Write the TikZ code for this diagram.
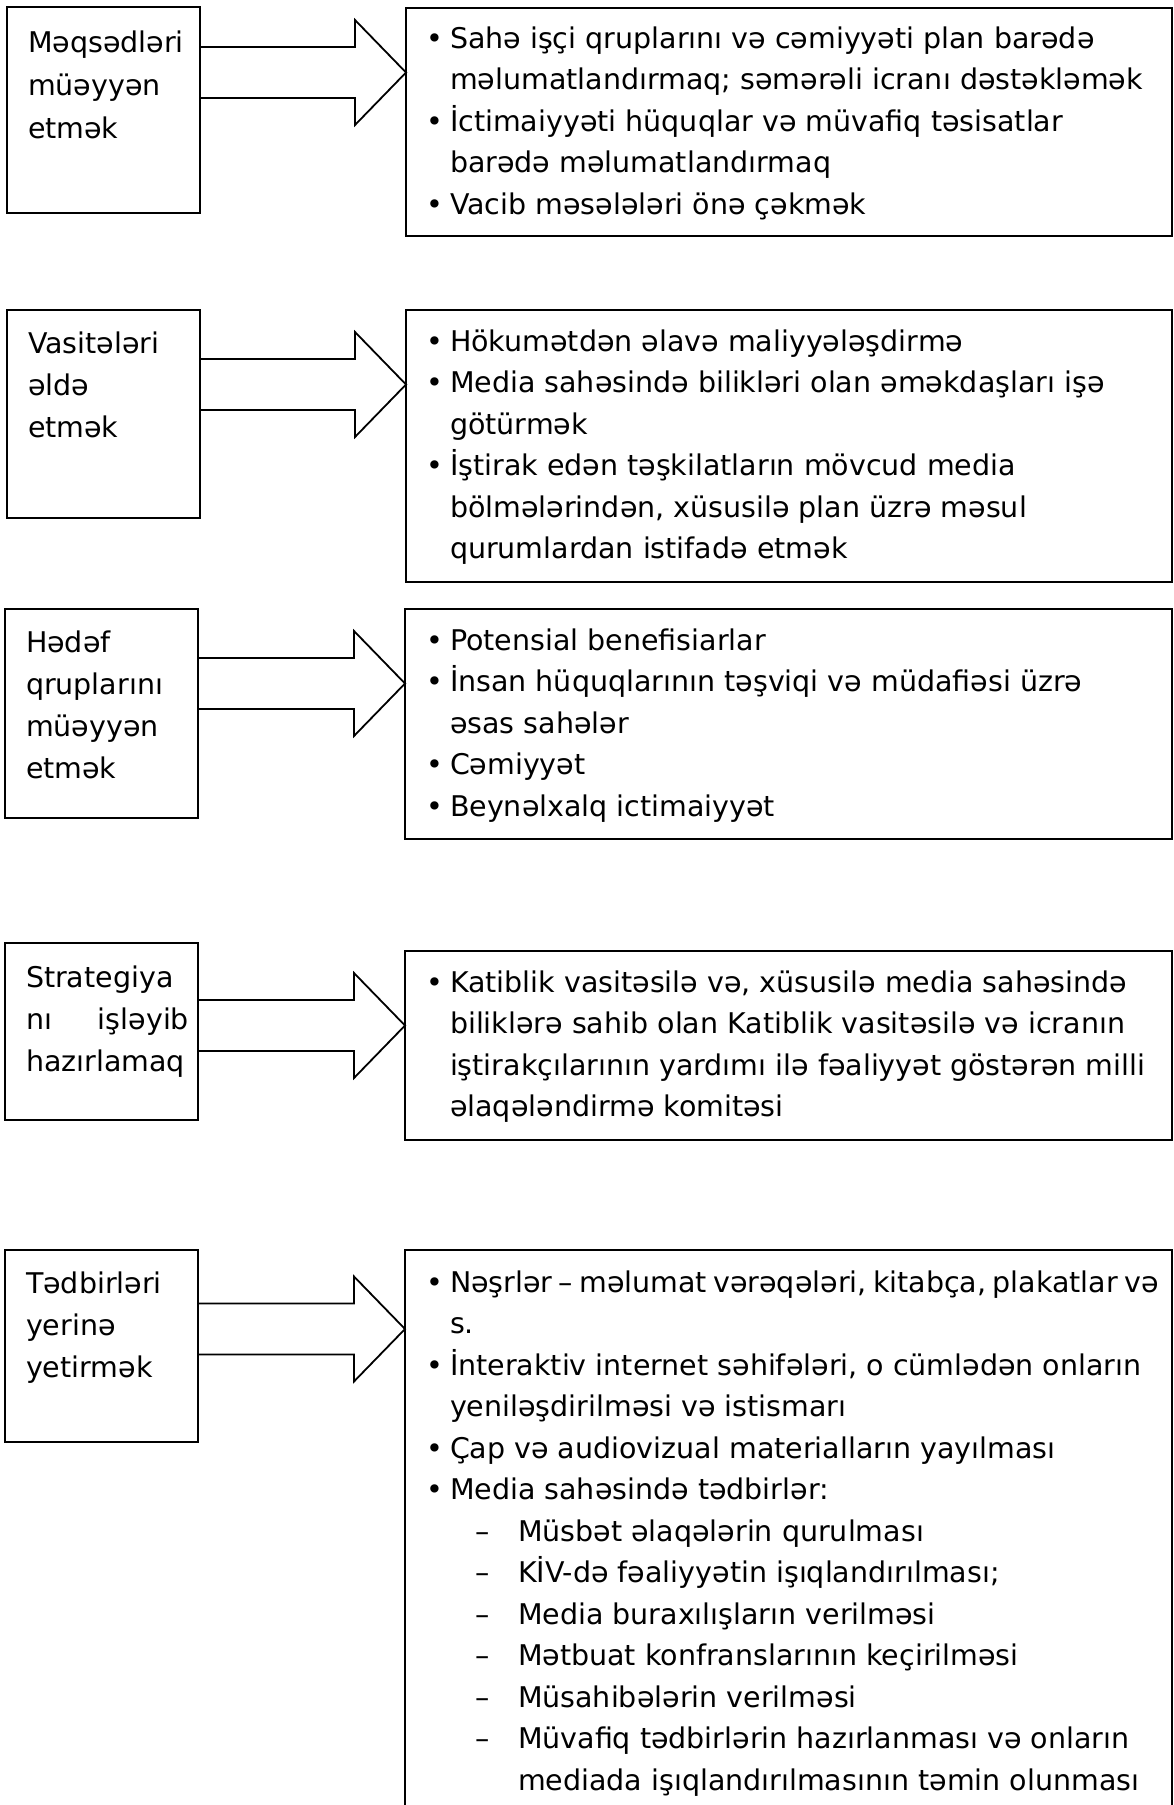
\documentclass[tikz,border=0pt]{standalone}
\usepackage{fontspec}
\setmainfont{DejaVu Sans}
\usetikzlibrary{calc}
\tikzset{
  frame/.style={draw=black, line width=2.6bp, anchor=north west, inner sep=0pt, outer sep=0pt},
  arrowline/.style={draw=black, line width=1.8bp, line join=miter},
  txt/.style={inner sep=0pt, outer sep=0pt, anchor=base west, font=\fontsize{28.5bp}{34bp}\selectfont},
  txtr/.style={txt, anchor=base east}
}
\newcommand\myBul[3]{\node[txt] (#1m) at (426,#2) {•}; \node[txt] (#1) at (450,#2) {#3};}
\newcommand\myCont[3]{\node[txt] (#1) at (450,#2) {#3};}
\newcommand\myDash[3]{\node[txt] (#1m) at (475,#2) {–}; \node[txt] (#1) at (518,#2) {#3};}
\newcommand\myDcont[3]{\node[txt] (#1) at (518,#2) {#3};}
\newcommand\myLeft[4]{\node[txt] (#1) at (#2,#3) {#4};}
\newcommand\myArrow[3]{%
  \coordinate (#1s) at (#1.east |- 0,#3);
  \coordinate (#2t) at (#2.west |- 0,#3);
  \draw[arrowline] ($(#1s)+(0,-25.5)$) -- ($(#2t)+(-51,-25.5)$) -- ($(#2t)+(-51,-52.5)$) -- (#2t) -- ($(#2t)+(-51,52.5)$) -- ($(#2t)+(-51,25.5)$) -- ($(#1s)+(0,25.5)$);
}
\begin{document}
\begin{tikzpicture}[x=1bp, y=-1bp]
\useasboundingbox (0,0) rectangle (1173,1805);

% left boxes
\node[frame, minimum width=193bp, minimum height=206bp] (L1) at (7,7) {};
\node[frame, minimum width=193bp, minimum height=208bp] (L2) at (7,310) {};
\node[frame, minimum width=193bp, minimum height=209bp] (L3) at (5,609) {};
\node[frame, minimum width=193bp, minimum height=177bp] (L4) at (5,943) {};
\node[frame, minimum width=193bp, minimum height=192bp] (L5) at (5,1250) {};

% right boxes
\node[frame, minimum width=766bp, minimum height=228bp] (R1) at (406,8) {};
\node[frame, minimum width=766bp, minimum height=272bp] (R2) at (406,310) {};
\node[frame, minimum width=767bp, minimum height=230bp] (R3) at (405,609) {};
\node[frame, minimum width=767bp, minimum height=189bp] (R4) at (405,951) {};
\node[frame, minimum width=767bp, minimum height=600bp] (R5) at (405,1250) {};

% arrows
\myArrow{L1}{R1}{72.5}
\myArrow{L2}{R2}{384.5}
\myArrow{L3}{R3}{683.5}
\myArrow{L4}{R4}{1025.5}
\myArrow{L5}{R5}{1329}

% left texts
\myLeft{a1}{28}{52}{Məqsədləri}
\myLeft{a2}{28}{95}{müəyyən}
\myLeft{a3}{28}{138}{etmək}

\myLeft{b1}{28}{353}{Vasitələri}
\myLeft{b2}{28}{395}{əldə}
\myLeft{b3}{28}{437}{etmək}

\myLeft{c1}{26}{652}{Hədəf}
\myLeft{c2}{26}{694}{qruplarını}
\myLeft{c3}{26}{736}{müəyyən}
\myLeft{c4}{26}{778}{etmək}

\myLeft{d1}{26}{987}{Strategiya}
\myLeft{d2}{26}{1029}{nı}
\node[txtr] (d2b) at (189,1029) {işləyib};
\myLeft{d3}{26}{1071}{hazırlamaq}

\myLeft{e1}{26}{1293}{Tədbirləri}
\myLeft{e2}{26}{1335}{yerinə}
\myLeft{e3}{26}{1377}{yetirmək}

% right texts box 1
\myBul{p1}{48}{Sahə işçi qruplarını və cəmiyyəti plan barədə}
\myCont{p2}{89.5}{məlumatlandırmaq; səmərəli icranı dəstəkləmək}
\myBul{p3}{131}{İctimaiyyəti hüquqlar və müvafiq təsisatlar}
\myCont{p4}{172.5}{barədə məlumatlandırmaq}
\myBul{p5}{214}{Vacib məsələləri önə çəkmək}

% box 2
\myBul{q1}{351}{Hökumətdən əlavə maliyyələşdirmə}
\myBul{q2}{392.5}{Media sahəsində bilikləri olan əməkdaşları işə}
\myCont{q3}{434}{götürmək}
\myBul{q4}{475.5}{İştirak edən təşkilatların mövcud media}
\myCont{q5}{517}{bölmələrindən, xüsusilə plan üzrə məsul}
\myCont{q6}{558.5}{qurumlardan istifadə etmək}

% box 3
\myBul{r1}{650}{Potensial benefisiarlar}
\myBul{r2}{691.5}{İnsan hüquqlarının təşviqi və müdafiəsi üzrə}
\myCont{r3}{733}{əsas sahələr}
\myBul{r4}{774.5}{Cəmiyyət}
\myBul{r5}{816}{Beynəlxalq ictimaiyyət}

% box 4
\myBul{s1}{992}{Katiblik vasitəsilə və, xüsusilə media sahəsində}
\myCont{s2}{1033.5}{biliklərə sahib olan Katiblik vasitəsilə və icranın}
\myCont{s3}{1075}{iştirakçılarının yardımı ilə fəaliyyət göstərən milli}
\myCont{s4}{1116.5}{əlaqələndirmə komitəsi}

% box 5
\myBul{t1}{1292}{\spaceskip=0.22em Nəşrlər – məlumat vərəqələri, kitabça, plakatlar və}
\myCont{t2}{1333.5}{s.}
\myBul{t3}{1375}{İnteraktiv internet səhifələri, o cümlədən onların}
\myCont{t4}{1416.5}{yeniləşdirilməsi və istismarı}
\myBul{t5}{1458}{Çap və audiovizual materialların yayılması}
\myBul{t6}{1499.5}{Media sahəsində tədbirlər:}
\myDash{t7}{1541}{Müsbət əlaqələrin qurulması}
\myDash{t8}{1582.5}{KİV-də fəaliyyətin işıqlandırılması;}
\myDash{t9}{1624}{Media buraxılışların verilməsi}
\myDash{t10}{1665.5}{Mətbuat konfranslarının keçirilməsi}
\myDash{t11}{1707}{Müsahibələrin verilməsi}
\myDash{t12}{1748.5}{Müvafiq tədbirlərin hazırlanması və onların}
\myDcont{t13}{1790}{mediada işıqlandırılmasının təmin olunması}
\end{tikzpicture}
\end{document}
